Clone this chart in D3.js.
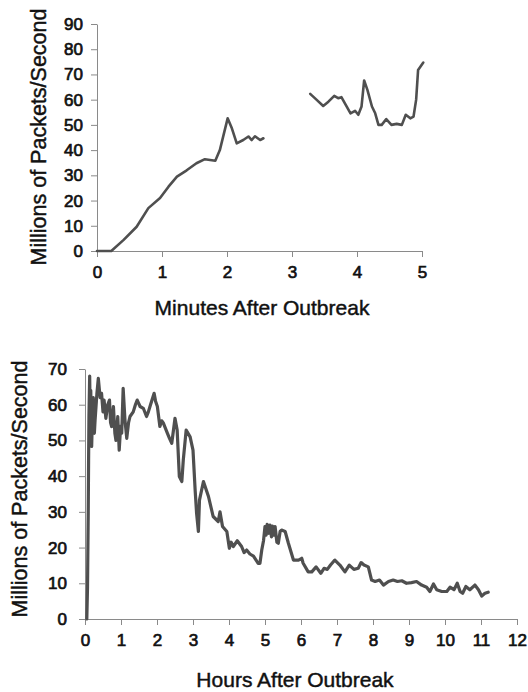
<!DOCTYPE html>
<html>
<head>
<meta charset="utf-8">
<script src="https://cdn.jsdelivr.net/npm/d3@7"></script>
<style>
  body { margin: 0; background: #fff; }
  text { font-family: "Liberation Sans", Arial, Helvetica, sans-serif; fill: #111; stroke: #111; stroke-width: 0.45px; }
</style>
</head>
<body>
<div id="chart"></div>
<script>
// top panel: minutes after outbreak (two segments, gap in the data)
var minutesA = [0, 0.22, 0.41, 0.61, 0.79, 0.97, 1.10, 1.23, 1.38, 1.53, 1.66, 1.82, 1.89, 2.01, 2.07, 2.15, 2.25, 2.33, 2.38, 2.43, 2.51, 2.56];
var rateA    = [0, 0, 4.4, 9.6, 17, 21, 25.5, 29.5, 32, 34.8, 36.4, 35.8, 40, 52.6, 49, 42.7, 44, 45.4, 44, 45.5, 44, 44.7];
var minutesB = [3.28, 3.38, 3.48, 3.56, 3.65, 3.71, 3.76, 3.84, 3.90, 3.97, 4.02, 4.07, 4.11, 4.16, 4.23, 4.28, 4.33, 4.38, 4.45, 4.53, 4.61, 4.69, 4.75, 4.82, 4.87, 4.91, 4.94, 5.02];
var rateB    = [62.3, 59.9, 57.5, 59.2, 61.5, 60.6, 61, 57.3, 54.6, 55.6, 54, 57.3, 67.6, 63.9, 57.3, 54.6, 50, 50, 52.3, 50, 50.4, 50, 54, 52.6, 53.3, 60, 71.8, 74.7];
var minuteTicks = [0, 1, 2, 3, 4, 5];
var topRateTicks = [0, 10, 20, 30, 40, 50, 60, 70, 80, 90];

// bottom panel: hours after outbreak
var hours = [0.05, 0.07, 0.09, 0.10, 0.11, 0.13, 0.14, 0.16, 0.185, 0.21, 0.23, 0.26, 0.28, 0.33, 0.37, 0.42, 0.46, 0.50, 0.53, 0.58, 0.63, 0.68, 0.71, 0.74, 0.79, 0.83, 0.86, 0.91, 0.95,
  0.99, 1.02, 1.06, 1.11, 1.16, 1.21, 1.25, 1.34, 1.40, 1.45, 1.53, 1.62, 1.71, 1.76, 1.82, 1.92, 1.96, 2.01, 2.08, 2.13, 2.18, 2.29, 2.35, 2.41, 2.50, 2.56, 2.62,
  2.69, 2.73, 2.81, 2.92, 3.00, 3.06, 3.10, 3.15, 3.18, 3.29, 3.43, 3.56, 3.70, 3.75, 3.82, 3.94, 4.01, 4.06, 4.12, 4.23, 4.35, 4.42, 4.49,
  4.58, 4.68, 4.81, 4.86, 4.91, 4.96, 5.00, 5.03, 5.06, 5.10, 5.14, 5.18, 5.21, 5.25, 5.28, 5.33, 5.37, 5.42, 5.46, 5.56, 5.65, 5.79, 5.93, 6.02, 6.06, 6.20, 6.30, 6.42,
  6.55, 6.64, 6.73, 6.82, 6.94, 7.08, 7.22, 7.34, 7.47, 7.59, 7.67, 7.75, 7.87, 7.96, 8.06, 8.18, 8.29, 8.43, 8.56, 8.68,
  8.80, 8.93, 9.07, 9.21, 9.35, 9.49, 9.58, 9.68, 9.77, 9.91, 10.05, 10.14, 10.25, 10.34, 10.42, 10.49, 10.58, 10.69, 10.83, 10.93,
  11.02, 11.11, 11.20];
var rateH = [0, 9, 30, 45, 57, 68, 59.5, 64, 48.3, 58, 62, 52, 55.7, 63, 67.4, 62, 63.2, 58, 61.3, 56.2, 60, 61.3, 55, 53.9, 59.5, 52, 50, 56.7, 47.3,
  54, 52, 64.6, 55.7, 50.6, 55, 56.7, 58, 60, 61.3, 59.5, 59, 56.7, 58, 60, 63.2, 61, 59.5, 53.9, 55.5, 54.8, 52, 50.5, 49.2, 56.2, 52.9, 39.9,
  38.5, 44.5, 52.9, 51, 47.3, 36, 29.6, 24.5, 33.3, 38.5, 34.3, 28.7, 27.3, 30, 25.9, 24.5, 19.8, 21.5, 20.3, 21.9, 20.3, 18.6, 19.3,
  18.2, 17.6, 15.6, 15.6, 19.3, 22, 25.9, 23.5, 26.5, 24, 26.3, 23, 26, 23.5, 25.9, 21.5, 21.2, 24.5, 24.9, 24.5, 21.2, 16.5, 16.5, 17, 15.6, 13.2, 13.2, 14.6,
  12.8, 14.2, 13.9, 15.1, 16.5, 15.1, 13.2, 15.1, 13.9, 14.2, 15.8, 15.1, 14.6, 10.9, 10.5, 10.9, 9.5, 10.5, 10.9, 10.5,
  10.7, 10, 10.2, 10.5, 9.5, 8.9, 7.7, 9.8, 8.2, 7.7, 7.7, 8.9, 8.2, 10, 7.7, 7.2, 9.1, 8.2, 9.5, 8.2,
  6.4, 7.2, 7.5];
var hourTicks = [0, 1, 2, 3, 4, 5, 6, 7, 8, 9, 10, 11, 12];
var bottomRateTicks = [0, 10, 20, 30, 40, 50, 60, 70];

var yTitle = "Millions of Packets/Second";

var svg = d3.select("#chart").append("svg")
  .attr("width", 528)
  .attr("height", 692);

function zip(xs, ys) {
  var out = [];
  for (var i = 0; i < xs.length; i++) {
    out.push({x: xs[i], y: ys[i]});
  }
  return out;
}

function panel(opt) {
  var x = d3.scaleLinear().domain(opt.xDomain).range(opt.xRange);
  var y = d3.scaleLinear().domain(opt.yDomain).range(opt.yRange);

  var xAxis = svg.append("g")
    .attr("transform", "translate(0," + opt.yRange[0] + ")")
    .call(d3.axisBottom(x).tickValues(opt.xTicks).tickSize(6).tickPadding(9).tickSizeOuter(0).tickFormat(d3.format("d")));
  var yAxis = svg.append("g")
    .attr("transform", "translate(" + opt.xRange[0] + ",0)")
    .call(d3.axisLeft(y).tickValues(opt.yTicks).tickSize(6).tickPadding(opt.yPad).tickSizeOuter(0).tickFormat(d3.format("d")));

  [xAxis, yAxis].forEach(function(a) {
    a.selectAll("path, line").attr("stroke", "#8a8a8a").attr("stroke-width", 1);
    a.selectAll("text").style("font-size", "17px").attr("fill", "#111").style("stroke-width", "0.7px");
  });

  var line = d3.line()
    .x(function(d) { return x(d.x); })
    .y(function(d) { return y(d.y); });

  opt.series.forEach(function(s) {
    svg.append("path")
      .datum(s)
      .attr("fill", "none")
      .attr("stroke", "#4f4f4f")
      .attr("stroke-width", opt.lineWidth)
      .attr("stroke-linejoin", "round")
      .attr("stroke-linecap", "round")
      .attr("d", line);
  });

  svg.append("text")
    .attr("x", opt.xTitlePos[0])
    .attr("y", opt.xTitlePos[1])
    .attr("text-anchor", "middle")
    .style("font-size", "21px")
    .text(opt.xTitle);

  svg.append("text")
    .attr("transform", "translate(" + opt.yTitlePos[0] + "," + opt.yTitlePos[1] + ") rotate(-90)")
    .attr("text-anchor", "middle")
    .style("font-size", "21.5px")
    .text(yTitle);
}

panel({
  xDomain: [0, 5], xRange: [97, 422],
  yDomain: [0, 90], yRange: [251, 24],
  xTicks: minuteTicks, yTicks: topRateTicks, yPad: 8,
  series: [zip(minutesA, rateA), zip(minutesB, rateB)],
  lineWidth: 2.6,
  xTitle: "Minutes After Outbreak", xTitlePos: [262, 315],
  yTitlePos: [46, 137]
});

panel({
  xDomain: [0, 12], xRange: [85, 517],
  yDomain: [0, 70], yRange: [619, 369],
  xTicks: hourTicks, yTicks: bottomRateTicks, yPad: 12,
  series: [zip(hours, rateH)],
  lineWidth: 3.2,
  xTitle: "Hours After Outbreak", xTitlePos: [295, 687],
  yTitlePos: [27, 489]
});
</script>
</body>
</html>
